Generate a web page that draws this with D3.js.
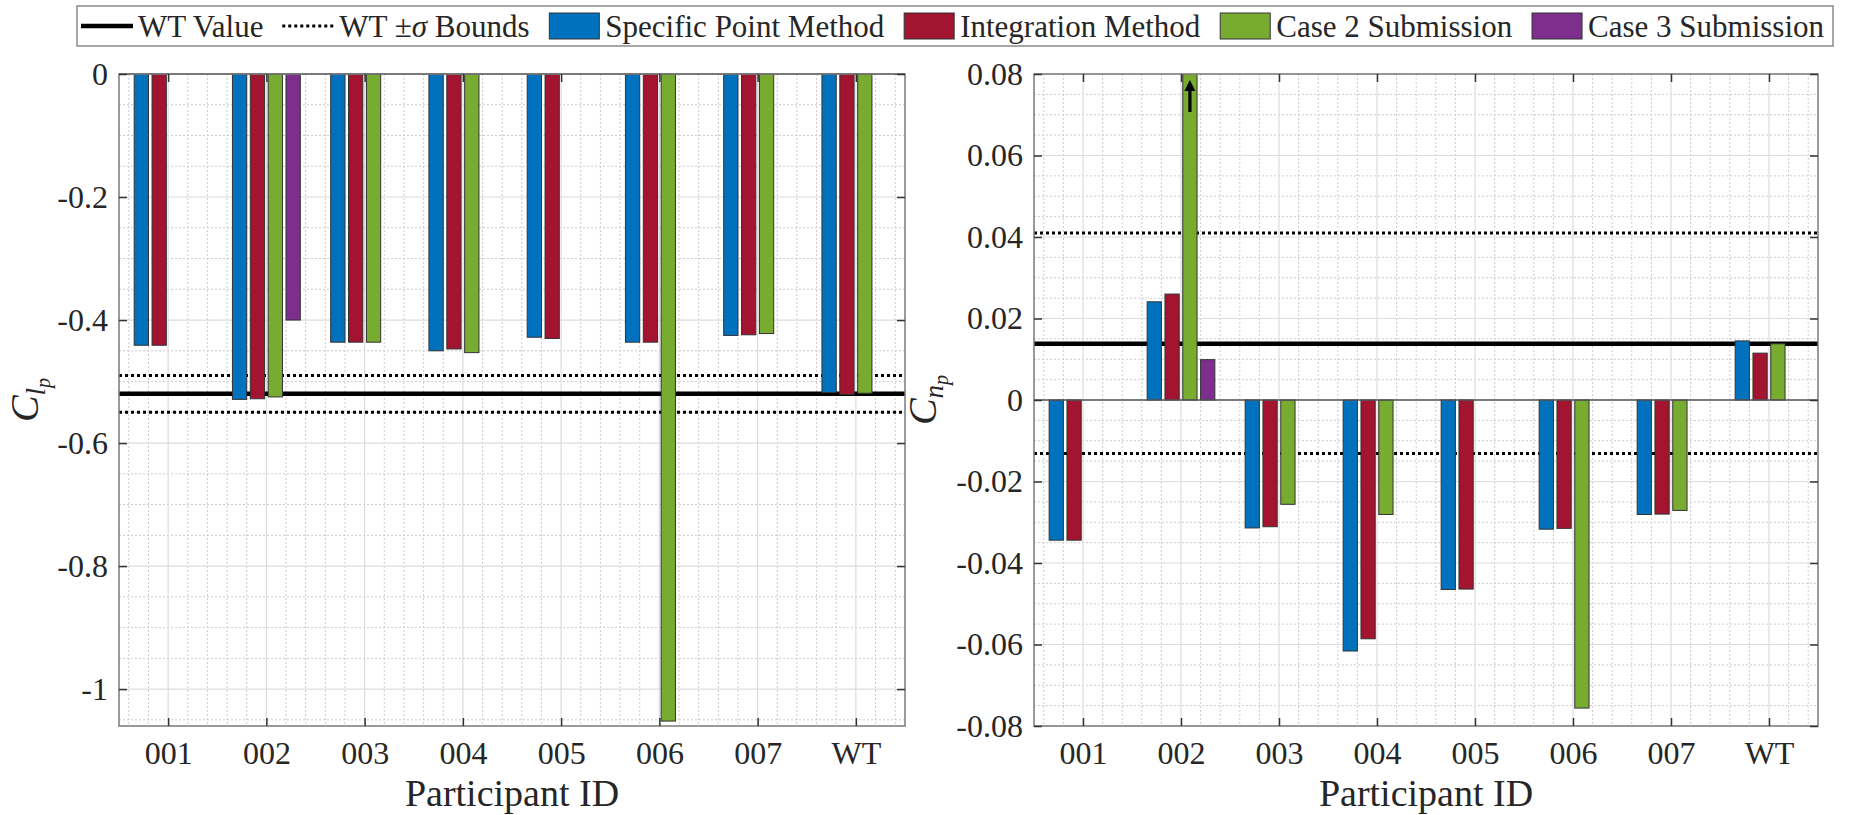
<!DOCTYPE html>
<html><head><meta charset="utf-8">
<script src="https://cdn.jsdelivr.net/npm/d3@7"></script>
<style>
body{margin:0;background:#fff}
svg{display:block}
text{font-family:"Liberation Serif","Times New Roman",serif;fill:#262626}
</style>
</head><body>
<svg id="c" width="1851" height="815"></svg>
<script>
// ---------------- data ----------------
const categories = ["001","002","003","004","005","006","007","WT"];
const seriesNames = ["Specific Point Method","Integration Method","Case 2 Submission","Case 3 Submission"];
const seriesColors = ["#0072BD","#A2142F","#77AC30","#7E2F8E"];

// C_lp
const clpSpecific    = [-0.441,-0.529,-0.436,-0.450,-0.428,-0.436,-0.425,-0.518];
const clpIntegration = [-0.441,-0.528,-0.436,-0.447,-0.430,-0.436,-0.424,-0.521];
const clpCase2       = [null,  -0.525,-0.436,-0.453,null,  -1.052,-0.422,-0.519];
const clpCase3       = [null,  -0.400,null,  null,  null,  null,  null,  null];
const clpWT = -0.52;
const clpBounds = [-0.49, -0.55];
const clpDomain = [-1.06, 0];
const clpTicks = [0,-0.2,-0.4,-0.6,-0.8,-1];
const clpTickLabels = ["0","-0.2","-0.4","-0.6","-0.8","-1"];

// C_np  (Case 2 / 002 is off-scale, above 0.08)
const cnpSpecific    = [-0.0344,0.0241,-0.0314,-0.0616,-0.0465,-0.0317,-0.0281,0.0145];
const cnpIntegration = [-0.0344,0.0260,-0.0311,-0.0586,-0.0464,-0.0315,-0.0280,0.0115];
const cnpCase2       = [null,   0.12,  -0.0256,-0.0281,null,   -0.0756,-0.0271,0.0138];
const cnpCase3       = [null,   0.0099,null,   null,   null,   null,   null,   null];
const cnpWT = 0.0138;
const cnpBounds = [0.041, -0.0131];
const cnpDomain = [-0.08, 0.08];
const cnpTicks = [0.08,0.06,0.04,0.02,0,-0.02,-0.04,-0.06,-0.08];
const cnpTickLabels = ["0.08","0.06","0.04","0.02","0","-0.02","-0.04","-0.06","-0.08"];

const legendItems = ["WT Value","WT \u00B1\u03C3 Bounds"].concat(seriesNames);

// ---------------- drawing ----------------
const svg = d3.select("#c");
const FONT = '"Liberation Serif","Times New Roman",serif';
const TOP = 74, BOTTOM = 726;
const groupWidth = Math.min(0.8, 4/(4+1.5));
const slot = groupWidth/4;
const barW = slot*0.8;

function drawPanel(o){
  const g = svg.append("g");
  const x = d3.scaleLinear().domain([0.5, categories.length+0.5]).range([o.x0, o.x1]);
  const y = d3.scaleLinear().domain(o.domain).range([BOTTOM, TOP]);
  const clipId = "clip"+o.id;
  svg.append("clipPath").attr("id",clipId).append("rect")
    .attr("x",o.x0).attr("y",TOP).attr("width",o.x1-o.x0).attr("height",BOTTOM-TOP);

  // grid
  const xMinor = d3.range(0.6, categories.length+0.45, 0.2).filter(v=>Math.abs(v-Math.round(v))>1e-6);
  const yMinor = d3.range(Math.ceil(o.domain[0]/o.minor-1e-9), Math.floor(o.domain[1]/o.minor+1e-9)+1)
      .map(k=>k*o.minor).filter(v=>o.ticks.every(t=>Math.abs(t-v)>1e-9));
  const grid = g.append("g");
  grid.selectAll(".xm").data(xMinor).join("line")
    .attr("x1",d=>x(d)).attr("x2",d=>x(d)).attr("y1",TOP).attr("y2",BOTTOM)
    .attr("stroke","#cccccc").attr("stroke-width",1).attr("stroke-dasharray","2,2");
  grid.selectAll(".ym").data(yMinor).join("line")
    .attr("x1",o.x0).attr("x2",o.x1).attr("y1",d=>y(d)).attr("y2",d=>y(d))
    .attr("stroke","#cccccc").attr("stroke-width",1).attr("stroke-dasharray","2,2");
  grid.selectAll(".xM").data(d3.range(1,categories.length+1)).join("line")
    .attr("x1",d=>x(d)).attr("x2",d=>x(d)).attr("y1",TOP).attr("y2",BOTTOM)
    .attr("stroke","#dcdcdc").attr("stroke-width",1.2);
  grid.selectAll(".yM").data(o.ticks).join("line")
    .attr("x1",o.x0).attr("x2",o.x1).attr("y1",d=>y(d)).attr("y2",d=>y(d))
    .attr("stroke","#dcdcdc").attr("stroke-width",1.2);

  // reference lines (under bars)
  g.selectAll(".bnd").data(o.bounds).join("line")
    .attr("x1",o.x0).attr("x2",o.x1).attr("y1",d=>y(d)).attr("y2",d=>y(d))
    .attr("stroke","#000").attr("stroke-width",3).attr("stroke-dasharray","3,3");
  g.append("line").attr("x1",o.x0).attr("x2",o.x1).attr("y1",y(o.wt)).attr("y2",y(o.wt))
    .attr("stroke","#000").attr("stroke-width",4.5);

  // bars
  const bars = g.append("g").attr("clip-path","url(#"+clipId+")");
  o.series.forEach((vals,j)=>{
    const data = vals.map((v,i)=>({v,i})).filter(d=>d.v!==null);
    bars.selectAll(".s"+j).data(data).join("rect")
      .attr("x",d=>x(d.i+1+(j-1.5)*slot - barW/2))
      .attr("width",d=>x(d.i+1+(j-1.5)*slot + barW/2)-x(d.i+1+(j-1.5)*slot - barW/2))
      .attr("y",d=>y(Math.max(0,d.v)))
      .attr("height",d=>Math.abs(y(d.v)-y(0)))
      .attr("fill",seriesColors[j]).attr("stroke","#333").attr("stroke-width",1);
  });
  // baseline
  g.append("line").attr("x1",o.x0).attr("x2",o.x1).attr("y1",y(0)).attr("y2",y(0))
    .attr("stroke","#555").attr("stroke-width",1.3);

  // off-scale arrows
  o.series.forEach((vals,j)=>{
    vals.forEach((v,i)=>{
      if(v!==null && v>o.domain[1]){
        const cx = x(i+1+(j-1.5)*slot), ty = y(o.domain[1])+6;
        g.append("path").attr("d",`M${cx},${ty} L${cx+5.5},${ty+11} L${cx+1.6},${ty+11} L${cx+1.6},${ty+32} L${cx-1.6},${ty+32} L${cx-1.6},${ty+11} L${cx-5.5},${ty+11} Z`)
          .attr("fill","#000");
      }
    });
  });

  // box
  g.append("rect").attr("x",o.x0).attr("y",TOP).attr("width",o.x1-o.x0).attr("height",BOTTOM-TOP)
    .attr("fill","none").attr("stroke","#7a7a7a").attr("stroke-width",1.5);

  // axes
  const xa = d3.axisBottom(x).tickValues(d3.range(1,categories.length+1)).tickFormat(d=>categories[d-1])
    .tickSizeInner(-8).tickSizeOuter(0).tickPadding(15);
  const ax = g.append("g").attr("transform",`translate(0,${BOTTOM})`).call(xa);
  const xt = d3.axisTop(x).tickValues(d3.range(1,categories.length+1)).tickFormat("")
    .tickSizeInner(-8).tickSizeOuter(0);
  const axt = g.append("g").attr("transform",`translate(0,${TOP})`).call(xt);
  const ya = d3.axisLeft(y).tickValues(o.ticks).tickFormat((d,i)=>o.tickLabels[i])
    .tickSizeInner(-8).tickSizeOuter(0).tickPadding(11);
  const ay = g.append("g").attr("transform",`translate(${o.x0},0)`).call(ya);
  const yr = d3.axisRight(y).tickValues(o.ticks).tickFormat("").tickSizeInner(-8).tickSizeOuter(0);
  const ayr = g.append("g").attr("transform",`translate(${o.x1},0)`).call(yr);
  [ax,axt,ay,ayr].forEach(a=>{
    a.attr("font-family",null).attr("font-size",null);
    a.select(".domain").remove();
    a.selectAll(".tick line").attr("stroke","#333").attr("stroke-width",1.5);
    a.selectAll("text").style("font-family",FONT).style("font-size","32px").attr("fill","#262626");
  });

  // x label
  g.append("text").attr("x",(o.x0+o.x1)/2).attr("y",806).attr("text-anchor","middle")
    .style("font-family",FONT).style("font-size","38px").text("Participant ID");
  // y label
  const yl = g.append("text").attr("transform",`translate(${o.ylx},400) rotate(-90)`)
    .attr("text-anchor","middle").style("font-family",FONT).style("font-style","italic");
  yl.append("tspan").style("font-size","40px").text("C");
  yl.append("tspan").style("font-size","27px").attr("dy",7).text(o.sub1);
  yl.append("tspan").style("font-size","20px").attr("dy",5).text("p");
}

drawPanel({id:"L",x0:119,x1:905,domain:clpDomain,ticks:clpTicks,tickLabels:clpTickLabels,minor:0.05,
  series:[clpSpecific,clpIntegration,clpCase2,clpCase3],wt:clpWT,bounds:clpBounds,ylx:38,sub1:"l"});
drawPanel({id:"R",x0:1034,x1:1818,domain:cnpDomain,ticks:cnpTicks,tickLabels:cnpTickLabels,minor:0.005,
  series:[cnpSpecific,cnpIntegration,cnpCase2,cnpCase3],wt:cnpWT,bounds:cnpBounds,ylx:936,sub1:"n"});

// ---------------- legend ----------------
const lg = svg.append("g");
const BOX = {x:77, y:6, w:1756, h:40};
lg.append("rect").attr("x",BOX.x).attr("y",BOX.y).attr("width",BOX.w).attr("height",BOX.h)
  .attr("fill","#fff").attr("stroke","#8a8a8a").attr("stroke-width",1.5);
const LY = BOX.y + BOX.h/2;
const texts = legendItems.map((t,i)=>{
  const tx = lg.append("text").attr("y",LY+11).style("font-family",FONT).style("font-size","31px");
  if(i===1){
    tx.append("tspan").text("WT \u00B1");
    tx.append("tspan").style("font-style","italic").text("\u03C3");
    tx.append("tspan").text(" Bounds");
  } else tx.text(t);
  return tx;
});
const widths = texts.map(t=>t.node().getComputedTextLength());
const tokenW = 52, tokenGap = 5, startX = BOX.x + 4, endX = BOX.x + BOX.w - 9;
const fixed = legendItems.length*(tokenW+tokenGap) + d3.sum(widths);
const itemGap = (endX - startX - fixed)/(legendItems.length-1);
let cx = startX;
legendItems.forEach((t,i)=>{
  if(i===0){
    lg.append("line").attr("x1",cx).attr("x2",cx+tokenW).attr("y1",LY).attr("y2",LY)
      .attr("stroke","#000").attr("stroke-width",4.5);
  } else if(i===1){
    lg.append("line").attr("x1",cx).attr("x2",cx+tokenW).attr("y1",LY).attr("y2",LY)
      .attr("stroke","#000").attr("stroke-width",3).attr("stroke-dasharray","3,3");
  } else {
    lg.append("rect").attr("x",cx+1).attr("y",LY-13).attr("width",tokenW-2).attr("height",26)
      .attr("fill",seriesColors[i-2]).attr("stroke","#333").attr("stroke-width",1);
  }
  texts[i].attr("x",cx+tokenW+tokenGap);
  cx += tokenW + tokenGap + widths[i] + itemGap;
});
</script>
</body></html>
